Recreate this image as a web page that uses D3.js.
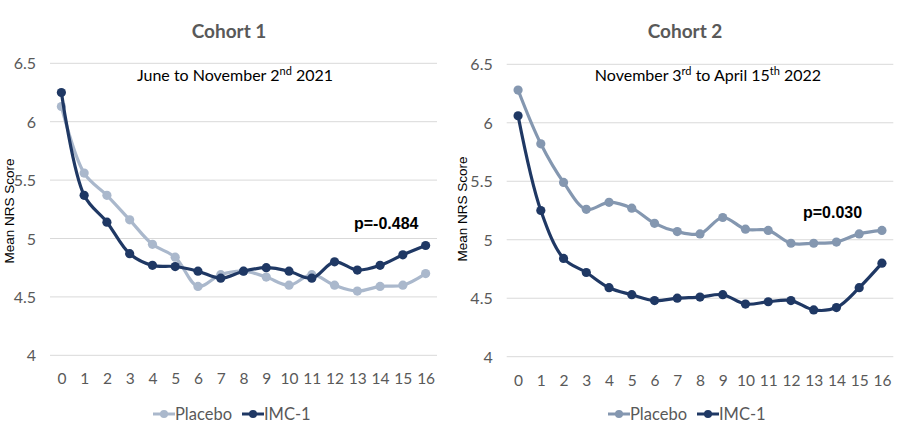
<!DOCTYPE html>
<html><head><meta charset="utf-8">
<script src="https://cdn.jsdelivr.net/npm/d3@7"></script>
<style>body{margin:0;background:#fff}</style>
</head><body>
<svg id="c" width="903" height="430"></svg>
<script>
const weeks = d3.range(0, 17).map(String);
const yTicks = [4, 4.5, 5, 5.5, 6, 6.5];
const c1Placebo = [6.13, 5.56, 5.37, 5.16, 4.95, 4.84, 4.59, 4.69, 4.72, 4.67, 4.60, 4.69, 4.60, 4.55, 4.59, 4.60, 4.70];
const c1IMC = [6.25, 5.37, 5.14, 4.87, 4.77, 4.76, 4.72, 4.66, 4.72, 4.75, 4.72, 4.66, 4.80, 4.73, 4.77, 4.86, 4.94];
const c2Placebo = [6.28, 5.82, 5.49, 5.26, 5.32, 5.27, 5.14, 5.07, 5.05, 5.19, 5.09, 5.08, 4.97, 4.97, 4.98, 5.05, 5.08];
const c2IMC = [6.06, 5.25, 4.84, 4.72, 4.59, 4.53, 4.48, 4.50, 4.51, 4.53, 4.45, 4.47, 4.48, 4.40, 4.42, 4.59, 4.80];
const seriesNames = ["Placebo", "IMC-1"];

const svg = d3.select("#c");
const FONT = "Lato, 'Open Sans', sans-serif";
const NAVY = "#1f3864";

function panel(cfg) {
  const g = svg.append("g");
  const x = d3.scalePoint().domain(weeks).range([cfg.x0, cfg.x1]).padding(0.5);
  const y = d3.scaleLinear().domain([4, 6.5]).range([cfg.yB, cfg.yT]);

  g.selectAll("line.grid").data(yTicks).join("line")
    .attr("x1", cfg.x0).attr("x2", cfg.x1)
    .attr("y1", d => y(d)).attr("y2", d => y(d))
    .attr("stroke", "#d9d9d9").attr("stroke-width", 1);

  const ya = g.append("g").attr("transform", `translate(${cfg.x0 - 11},0)`)
    .call(d3.axisLeft(y).tickValues(yTicks).tickSize(0).tickFormat(d => String(d)));
  ya.select(".domain").remove();
  ya.selectAll("text").attr("font-family", FONT).attr("font-size", 16).attr("fill", "#595959").attr("dy", "0.35em");

  const xa = g.append("g").attr("transform", `translate(0,${cfg.yB + 15})`)
    .call(d3.axisBottom(x).tickSize(0));
  xa.select(".domain").remove();
  xa.selectAll("text").attr("font-family", FONT).attr("font-size", 15.5).attr("fill", "#595959").attr("dy", "0.7em");

  const line = d3.line().x((d, i) => x(weeks[i])).y(d => y(d)).curve(d3.curveCatmullRom.alpha(0.5));
  const series = [{v: cfg.placebo, c: cfg.pc}, {v: cfg.imc, c: NAVY}];
  series.forEach(s => {
    g.append("path").attr("d", line(s.v)).attr("fill", "none").attr("stroke", s.c).attr("stroke-width", 3.2);
    g.selectAll(null).data(s.v).join("circle")
      .attr("cx", (d, i) => x(weeks[i])).attr("cy", d => y(d)).attr("r", 4.6).attr("fill", s.c);
  });

  g.append("text").attr("x", cfg.tx).attr("y", 38).attr("text-anchor", "middle")
    .attr("font-family", FONT).attr("font-weight", "bold").attr("font-size", 19).attr("fill", "#595959")
    .text(cfg.title);

  const st = g.append("text").attr("x", cfg.sx).attr("y", 81).attr("text-anchor", "middle")
    .attr("font-family", FONT).attr("font-size", 16).attr("fill", "#000");
  cfg.sub.forEach(p => {
    const t = st.append("tspan").text(p[0]);
    if (p[1]) t.attr("font-size", 11).attr("dy", -6);
    else if (p[2]) t.attr("dy", 6);
  });

  g.append("text").attr("transform", `translate(${cfg.ytx},${cfg.yty}) rotate(-90)`)
    .attr("text-anchor", "middle").attr("dy", "0.35em")
    .attr("font-family", "'Liberation Sans', Arial, sans-serif").attr("font-size", 13.5).attr("fill", "#000")
    .text("Mean NRS Score");

  g.append("text").attr("x", cfg.px).attr("y", cfg.py)
    .attr("font-family", "'Liberation Sans', Arial, sans-serif").attr("font-weight", "bold").attr("font-size", 16)
    .attr("fill", "#000").text(cfg.p);

  const lg = g.append("g").attr("transform", `translate(${cfg.lx},414)`);
  const items = [{n: seriesNames[0], c: cfg.pc, dx: 0}, {n: seriesNames[1], c: NAVY, dx: 89}];
  items.forEach(it => {
    const gi = lg.append("g").attr("transform", `translate(${it.dx},0)`);
    gi.append("line").attr("x1", 0).attr("x2", 22).attr("stroke", it.c).attr("stroke-width", 3);
    gi.append("circle").attr("cx", 11).attr("r", 4).attr("fill", it.c);
    gi.append("text").attr("x", 22).attr("dy", "0.35em").attr("font-family", FONT).attr("font-size", 16.5)
      .attr("fill", "#595959").text(it.n);
  });
}

panel({x0: 50, x1: 437, yT: 63.3, yB: 355.3, placebo: c1Placebo, imc: c1IMC, pc: "#aab8cc",
  title: "Cohort 1", tx: 229, sx: 235,
  sub: [["June to November 2"], ["nd", true], [" 2021", false, true]],
  ytx: 9, yty: 211, px: 354, py: 229, p: "p=-0.484", lx: 153});

panel({x0: 506.7, x1: 893.3, yT: 64.3, yB: 356.7, placebo: c2Placebo, imc: c2IMC, pc: "#8497b0",
  title: "Cohort 2", tx: 685, sx: 708,
  sub: [["November 3"], ["rd", true], [" to April 15", false, true], ["th", true], [" 2022", false, true]],
  ytx: 462, yty: 209, px: 803, py: 218, p: "p=0.030", lx: 608});
</script>
</body></html>
